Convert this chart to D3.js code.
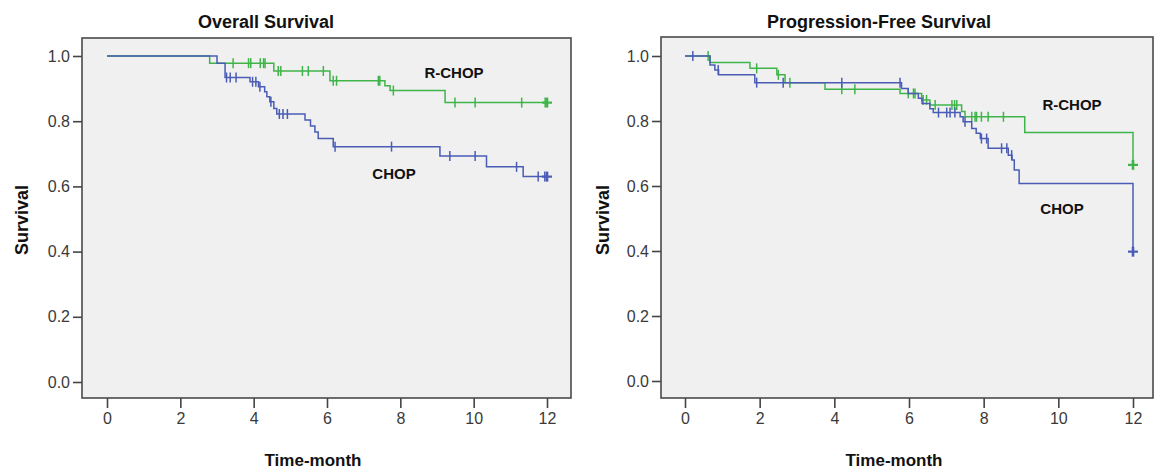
<!DOCTYPE html>
<html>
<head>
<meta charset="utf-8">
<script src="https://cdn.jsdelivr.net/npm/d3@7"></script>
<style>
  html, body { margin: 0; padding: 0; background: #ffffff; }
  svg { display: block; }
</style>
</head>
<body>
<svg id="chart" width="1155" height="472"></svg>
<script>
// ---------- DATA ----------
const xTicks = [0, 2, 4, 6, 8, 10, 12];
const yTicks = [0.0, 0.2, 0.4, 0.6, 0.8, 1.0];
const panelTitles = ["Overall Survival", "Progression-Free Survival"];
const groupNames = ["R-CHOP", "CHOP"];
const endTime = 12;

// Overall survival: [time, survival after step]
const osRchopSteps = [[0, 1.0], [2.80, 0.978], [4.55, 0.954], [6.08, 0.924], [7.58, 0.909], [7.72, 0.894], [9.22, 0.857]];
const osRchopCensor = [3.44, 3.86, 3.92, 4.18, 4.27, 4.31, 4.67, 4.74, 5.33, 5.49, 5.90, 6.17, 6.26, 7.40, 7.44, 7.81, 9.49, 10.04, 11.31, 11.95, 12.0];
const osChopSteps = [[0, 1.0], [3.00, 0.978], [3.22, 0.934], [3.90, 0.921], [4.13, 0.906], [4.30, 0.89], [4.36, 0.875], [4.44, 0.86], [4.55, 0.839], [4.63, 0.822], [5.40, 0.804], [5.55, 0.785], [5.67, 0.767], [5.76, 0.747], [6.17, 0.722], [9.08, 0.693], [10.35, 0.66], [11.35, 0.63]];
const osChopCensor = [3.26, 3.36, 3.52, 3.97, 4.06, 4.17, 4.47, 4.70, 4.80, 4.92, 6.22, 7.76, 9.35, 10.04, 11.17, 11.76, 11.94, 12.0];

// Progression-free survival
const pfsRchopSteps = [[0, 1.0], [0.67, 0.98], [1.74, 0.962], [2.46, 0.942], [2.68, 0.918], [3.75, 0.898], [5.76, 0.885], [6.34, 0.865], [6.56, 0.849], [7.41, 0.829], [7.50, 0.813], [9.10, 0.765], [12.0, 0.665]];
const pfsRchopCensor = [0.62, 1.92, 2.50, 2.81, 4.20, 4.55, 5.98, 6.12, 6.16, 6.38, 6.47, 6.70, 7.15, 7.22, 7.28, 7.68, 7.77, 7.81, 7.94, 8.12, 8.53, 12.0];
const pfsChopSteps = [[0, 1.0], [0.67, 0.972], [0.80, 0.957], [0.90, 0.942], [1.87, 0.918], [5.80, 0.90], [5.98, 0.885], [6.25, 0.87], [6.35, 0.854], [6.56, 0.838], [6.65, 0.826], [7.37, 0.813], [7.45, 0.798], [7.68, 0.777], [7.80, 0.762], [7.91, 0.746], [8.12, 0.716], [8.66, 0.695], [8.76, 0.68], [8.82, 0.649], [8.95, 0.608], [12.0, 0.398]];
const pfsChopCensor = [0.21, 0.89, 1.92, 2.63, 4.20, 5.76, 6.79, 7.01, 7.10, 7.23, 7.50, 7.94, 8.08, 8.48, 8.62, 8.75, 12.0];

// ---------- LAYOUT ----------
const colors = { "R-CHOP": "#3fb449", "CHOP": "#4a5cb6" };
const font = "'Liberation Sans', Arial, sans-serif";

const panels = [
  {
    title: panelTitles[0], titleX: 266,
    frame: { x0: 82, x1: 571, y0: 38, y1: 398 },
    xRange: [107, 547], yRange: [382, 56],
    ylabX: 22, xlabX: 313,
    series: [
      { name: groupNames[0], steps: osRchopSteps, censor: osRchopCensor },
      { name: groupNames[1], steps: osChopSteps, censor: osChopCensor }
    ],
    labels: [{ text: groupNames[0], x: 454, y: 78 }, { text: groupNames[1], x: 394, y: 179 }]
  },
  {
    title: panelTitles[1], titleX: 879,
    frame: { x0: 661, x1: 1153, y0: 37, y1: 398 },
    xRange: [685, 1133], yRange: [381, 56],
    ylabX: 603, xlabX: 894,
    series: [
      { name: groupNames[0], steps: pfsRchopSteps, censor: pfsRchopCensor },
      { name: groupNames[1], steps: pfsChopSteps, censor: pfsChopCensor }
    ],
    labels: [{ text: groupNames[0], x: 1072, y: 110 }, { text: groupNames[1], x: 1062, y: 214 }]
  }
];

const svg = d3.select("#chart");

function levelAt(steps, t) {
  let v = steps[0][1];
  for (const [st, sv] of steps) { if (st <= t + 1e-9) v = sv; }
  return v;
}

panels.forEach(p => {
  const g = svg.append("g");
  const x = d3.scaleLinear().domain([0, endTime]).range(p.xRange);
  const y = d3.scaleLinear().domain([0, 1]).range(p.yRange);
  const f = p.frame;

  // plot background
  g.append("rect")
    .attr("x", f.x0).attr("y", f.y0)
    .attr("width", f.x1 - f.x0).attr("height", f.y1 - f.y0)
    .attr("fill", "#f0f0f0");

  // axes
  const yAxis = d3.axisLeft(y).tickValues(yTicks).tickFormat(d3.format(".1f")).tickSize(9).tickPadding(3);
  const xAxis = d3.axisBottom(x).tickValues(xTicks).tickFormat(d3.format("d")).tickSize(10).tickPadding(5);

  const ya = g.append("g").attr("transform", `translate(${f.x0},0)`).call(yAxis);
  const xa = g.append("g").attr("transform", `translate(0,${f.y1})`).call(xAxis);
  [ya, xa].forEach(a => {
    a.select(".domain").remove();
    a.selectAll(".tick line").attr("stroke", "#444").attr("stroke-width", 1.6);
    a.selectAll(".tick text").attr("fill", "#3a3a3a").style("font-family", font).style("font-size", "16px");
  });

  // frame
  g.append("rect")
    .attr("x", f.x0).attr("y", f.y0)
    .attr("width", f.x1 - f.x0).attr("height", f.y1 - f.y0)
    .attr("fill", "none").attr("stroke", "#4a4a4a").attr("stroke-width", 1.6);

  // curves
  const line = d3.line().x(d => x(d[0])).y(d => y(d[1])).curve(d3.curveStepAfter);
  p.series.forEach(s => {
    const pts = s.steps.slice();
    const last = pts[pts.length - 1];
    if (last[0] < endTime) pts.push([endTime, last[1]]);
    g.append("path").attr("d", line(pts))
      .attr("fill", "none").attr("stroke", colors[s.name]).attr("stroke-width", 1.5);
    g.selectAll(null).data(s.censor).enter().append("line")
      .attr("x1", d => x(d)).attr("x2", d => x(d))
      .attr("y1", d => y(levelAt(s.steps, d)) - 5)
      .attr("y2", d => y(levelAt(s.steps, d)) + 5)
      .attr("stroke", colors[s.name])
      .attr("stroke-width", d => d >= endTime ? 2.6 : 1.5);
    // thicker horizontal at the end for the "+" look
    g.append("line")
      .attr("x1", x(endTime) - 5).attr("x2", x(endTime) + 5)
      .attr("y1", y(levelAt(s.steps, endTime))).attr("y2", y(levelAt(s.steps, endTime)))
      .attr("stroke", colors[s.name]).attr("stroke-width", 2.2);
  });

  // group labels
  p.labels.forEach(l => {
    g.append("text").attr("x", l.x).attr("y", l.y)
      .attr("text-anchor", "middle")
      .style("font-family", font).style("font-size", "15px").style("font-weight", "bold")
      .attr("fill", "#111").text(l.text);
  });

  // title
  g.append("text").attr("x", p.titleX).attr("y", 28)
    .attr("text-anchor", "middle")
    .style("font-family", font).style("font-size", "18px").style("font-weight", "bold")
    .attr("fill", "#111").text(p.title);

  // y label
  g.append("text")
    .attr("transform", `translate(${p.ylabX + 6},220) rotate(-90)`)
    .attr("text-anchor", "middle")
    .style("font-family", font).style("font-size", "18px").style("font-weight", "bold")
    .attr("fill", "#111").text("Survival");

  // x label
  g.append("text").attr("x", p.xlabX).attr("y", 466)
    .attr("text-anchor", "middle")
    .style("font-family", font).style("font-size", "17px").style("font-weight", "bold")
    .attr("fill", "#111").text("Time-month");
});
</script>
</body>
</html>
